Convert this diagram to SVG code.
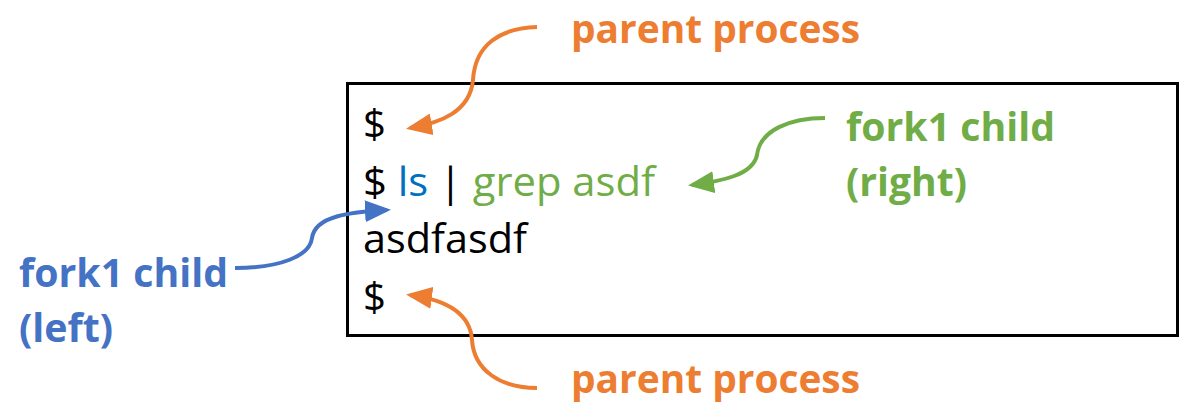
<svg xmlns="http://www.w3.org/2000/svg" width="1190" height="409" viewBox="0 0 1190 409">
  <style>
    .term { font-family: "Open Sans", "Liberation Sans", sans-serif; font-size: 40px; fill: #000; }
    .lbl { font-family: "Open Sans", "Liberation Sans", sans-serif; font-size: 40px; font-weight: bold; }
    .orange { fill: #ED7D31; }
    .green { fill: #70AD47; }
    .blue { fill: #4472C4; }
    .conn { fill: none; stroke-width: 4; }
  </style>
  <defs>
    <marker id="arrO" viewBox="0 0 26 22" refX="22" refY="11" markerWidth="26" markerHeight="22" markerUnits="userSpaceOnUse" orient="auto">
      <path d="M0,0 L26,11 L0,22 z" fill="#ED7D31"/>
    </marker>
    <marker id="arrG" viewBox="0 0 26 22" refX="22" refY="11" markerWidth="26" markerHeight="22" markerUnits="userSpaceOnUse" orient="auto">
      <path d="M0,0 L26,11 L0,22 z" fill="#70AD47"/>
    </marker>
    <marker id="arrB" viewBox="0 0 26 22" refX="22" refY="11" markerWidth="26" markerHeight="22" markerUnits="userSpaceOnUse" orient="auto">
      <path d="M0,0 L26,11 L0,22 z" fill="#4472C4"/>
    </marker>
  </defs>

  <!-- terminal window -->
  <g id="terminal">
    <rect x="347.5" y="83.5" width="830" height="252" fill="#fff" stroke="#000" stroke-width="3"/>
    <text class="term" x="363" y="138">$</text>
    <text class="term" x="363" y="196" textLength="292" lengthAdjust="spacingAndGlyphs">$ <tspan fill="#0070C0">ls</tspan> | <tspan fill="#70AD47">grep asdf</tspan></text>
    <text class="term" x="363" y="253" textLength="164" lengthAdjust="spacingAndGlyphs">asdfasdf</text>
    <text class="term" x="363" y="311">$</text>
  </g>

  <!-- callout labels -->
  <g id="parent-top">
    <text class="lbl orange" x="571" y="43" textLength="289" lengthAdjust="spacingAndGlyphs">parent process</text>
  </g>
  <g id="child-right">
    <text class="lbl green" x="846" y="141" textLength="209" lengthAdjust="spacingAndGlyphs">fork1 child</text>
    <text class="lbl green" x="846" y="196" textLength="121" lengthAdjust="spacingAndGlyphs">(right)</text>
  </g>
  <g id="child-left">
    <text class="lbl blue" x="19" y="287" textLength="209" lengthAdjust="spacingAndGlyphs">fork1 child</text>
    <text class="lbl blue" x="19" y="342" textLength="94" lengthAdjust="spacingAndGlyphs">(left)</text>
  </g>
  <g id="parent-bottom">
    <text class="lbl orange" x="571" y="393" textLength="289" lengthAdjust="spacingAndGlyphs">parent process</text>
  </g>

  <!-- connectors -->
  <g id="connectors" class="conn">
    <path class="conn" stroke="#ED7D31" marker-end="url(#arrO)" d="M537,27 C500,28 475,45 473,80 C470,112 440,123 410,128"/>
    <path class="conn" stroke="#ED7D31" marker-end="url(#arrO)" d="M537,388 C500,388 474,370 472,340 C470,310 440,299 410,295"/>
    <path class="conn" stroke="#70AD47" marker-end="url(#arrG)" d="M825,118 C790,118 760,130 757,155 C753,175 722,181 692,185"/>
    <path class="conn" stroke="#4472C4" marker-end="url(#arrB)" d="M235,268 C280,268 310,256 312,238 C315,216 350,212 387,210"/>
  </g>
</svg>
